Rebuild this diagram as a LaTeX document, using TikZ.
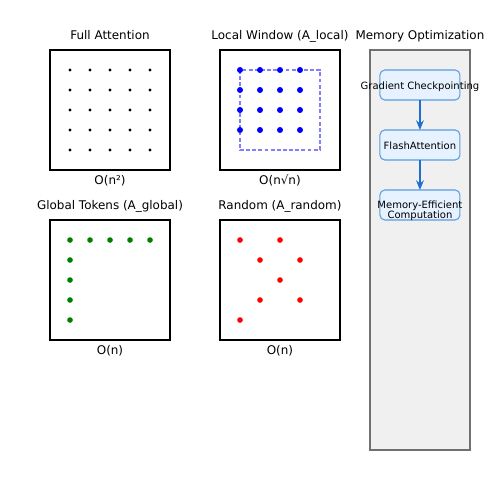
\documentclass[tikz,border=0pt]{standalone}
\usepackage{fontspec}
\setmainfont{DejaVu Sans}
\usepackage{tikz}
\usetikzlibrary{arrows.meta}
\usetikzlibrary{positioning}
\definecolor{memfill}{HTML}{F0F0F0}
\definecolor{memline}{HTML}{707070}
\definecolor{stepfill}{HTML}{E6F2FF}
\definecolor{stepline}{HTML}{5A9BE0}
\definecolor{flowline}{HTML}{1F6FCF}
\definecolor{windowline}{HTML}{7F7FFF}
\definecolor{dotgreen}{HTML}{008000}
\tikzset{
    panel/.style={
           rectangle,
           draw=black,
           line width=1.1pt,
           minimum size=2.4cm,
           inner sep=0pt,
           outer sep=0pt,
           },
    mempanel/.style={
           rectangle,
           draw=memline,
           fill=memfill,
           line width=0.7pt,
           minimum width=2cm,
           minimum height=8cm,
           inner sep=0pt,
           outer sep=0pt,
           },
    stepbox/.style={
           rectangle,
           rounded corners=2.8pt,
           draw=stepline,
           fill=stepfill,
           line width=0.6pt,
           minimum width=1.6cm,
           minimum height=0.6cm,
           inner sep=0pt,
           outer sep=0pt,
           },
    title/.style={
           font=\fontsize{6.8}{8}\selectfont,
           inner sep=0pt,
           },
    steplabel/.style={
           font=\fontsize{5.7}{5.7}\selectfont,
           inner sep=0pt,
           align=center,
           },
    stepline1/.style={
           steplabel,
           text height=4.6pt,
           text depth=0pt,
           },
}

\begin{document}
\begin{tikzpicture}[x=0.02cm,y=-0.02cm,>={Stealth[length=5.5pt,width=4.4pt]}]
 \useasboundingbox (0,0) rectangle (500,500);

 % pattern panels
 \node[panel] (FULL) at (110,110) {};
 \node[panel, right=1cm of FULL] (LOCAL) {};
 \node[panel, below=1cm of FULL] (GLOBAL) {};
 \node[panel, below=1cm of LOCAL] (RANDOM) {};

 \node[title, above=5.7pt of FULL.north, anchor=base] {Full Attention};
 \node[title, above=5.7pt of LOCAL.north, anchor=base] {Local Window (A\_local)};
 \node[title, above=5.7pt of GLOBAL.north, anchor=base] {Global Tokens (A\_global)};
 \node[title, above=5.7pt of RANDOM.north, anchor=base] {Random (A\_random)};

 \node[title, below=8pt of FULL.south, anchor=base] {O(n²)};
 \node[title, below=8pt of LOCAL.south, anchor=base] {O(n√n)};
 \node[title, below=8pt of GLOBAL.south, anchor=base] {O(n)};
 \node[title, below=8pt of RANDOM.south, anchor=base] {O(n)};

 % dots
 \foreach \i in {0,...,4}
   \foreach \j in {0,...,4}
     \fill[black] (70+20*\i,70+20*\j) circle (0.95pt);

 \draw[windowline, line width=0.6pt, dash pattern=on 2.2pt off 1.3pt]
   (240,70) rectangle (320,150);
 \foreach \i in {0,...,3}
   \foreach \j in {0,...,3}
     \fill[blue] (240+20*\i,70+20*\j) circle (1.7pt);

 \foreach \i in {0,...,4}
   \fill[dotgreen] (70+20*\i,240) circle (1.6pt);
 \foreach \j in {1,...,4}
   \fill[dotgreen] (70,240+20*\j) circle (1.6pt);

 \foreach \x/\y in {240/240,280/240,260/260,300/260,280/280,260/300,300/300,240/320}
   \fill[red] (\x,\y) circle (1.6pt);

 % memory optimization
 \node[mempanel, right=0.6cm of LOCAL.north east, anchor=north west] (MEM) {};
 \node[title, above=5.7pt of MEM.north, anchor=base] {Memory Optimization};

 \node[stepbox, below=0.4cm of MEM.north,
   label={[stepline1]center:Gradient Checkpointing}] (CKPT) {};
 \node[stepbox, below=0.6cm of CKPT,
   label={[stepline1]center:FlashAttention}] (FLASH) {};
 \node[stepbox, below=0.6cm of FLASH,
   label={[steplabel, yshift=-3.2pt]center:Memory-Efficient\\Computation}] (MEC) {};

 \path[->, draw=flowline, line width=0.85pt]
   (CKPT) edge (FLASH)
   (FLASH) edge (MEC)
 ;
\end{tikzpicture}
\end{document}
